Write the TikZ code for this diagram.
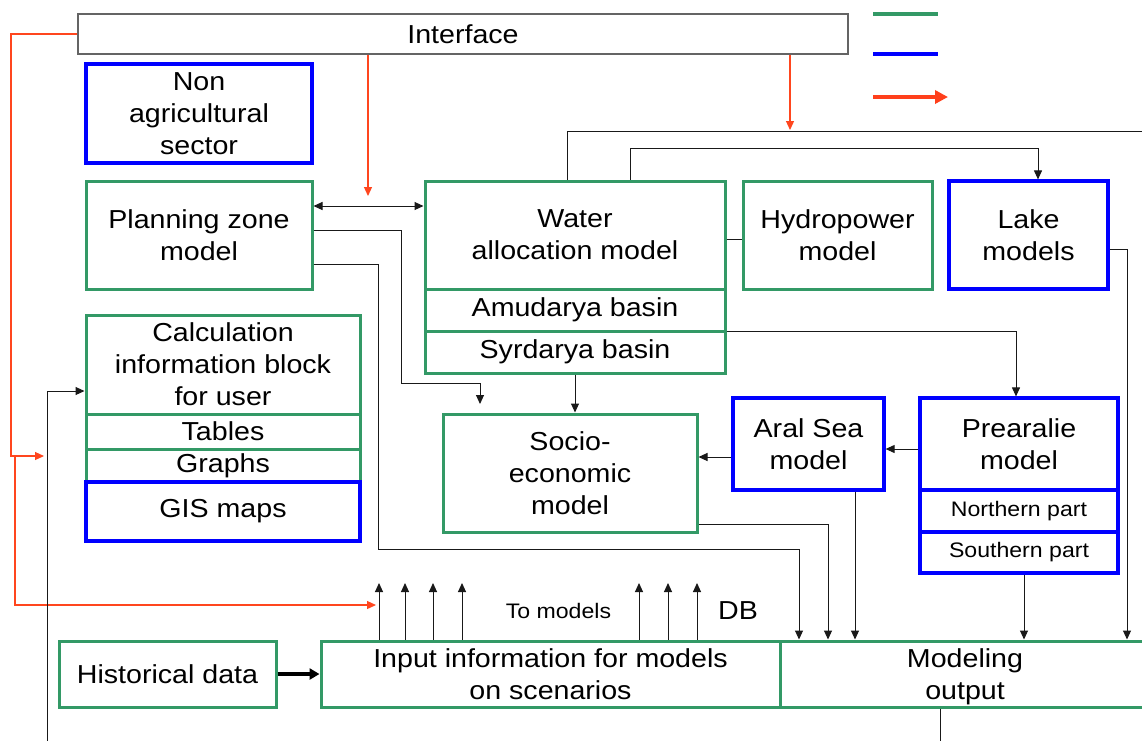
\documentclass[tikz,border=0pt]{standalone}
\usepackage{fontspec}
\setmainfont{Liberation Sans}[FakeStretch=1.1]
\usetikzlibrary{arrows.meta}
\definecolor{gboxc}{RGB}{51,153,102}
\definecolor{bboxc}{RGB}{0,0,255}
\definecolor{redc}{RGB}{255,70,30}
\definecolor{grayc}{RGB}{100,100,100}
\definecolor{linec}{RGB}{25,25,25}
\begin{document}
\begin{tikzpicture}[x=1pt,y=-1pt,
  box/.style={draw, inner sep=0pt, align=center, font=\fontsize{26}{32}\selectfont},
  gbox/.style={box, draw=gboxc, line width=3pt},
  bbox/.style={box, draw=bboxc, line width=3.2pt},
  ibox/.style={box, draw=grayc, line width=2pt},
  conn/.style={draw=linec, line width=1pt},
  arr/.style={-{Triangle[width=8pt,length=9pt]}},
  darr/.style={{Triangle[width=8pt,length=9pt]}-{Triangle[width=8pt,length=9pt]}},
  rconn/.style={draw=redc, line width=1.2pt, -{Triangle[width=8pt,length=9pt]}},
  lbl/.style={inner sep=0pt, align=center, font=\fontsize{26}{32}\selectfont},
  slbl/.style={inner sep=0pt, font=\fontsize{21}{25}\selectfont}
]
\useasboundingbox (0,0) rectangle (1142,740);
\clip (0,0) rectangle (1142,740);
\fill[white] (0,0) rectangle (1142,740);

% boxes
\node[ibox, minimum width=770, minimum height=40] (iface) at (463,34) {Interface};
\node[bbox, minimum width=226, minimum height=99] (nonag) at (199,113.5) {Non\\agricultural\\sector};
\node[gbox, minimum width=226, minimum height=108] (pz) at (199,235) {Planning zone\\model};

\node[gbox, minimum width=274, minimum height=99] (calc) at (223,364.5) {Calculation\\information block\\for user};
\node[gbox, minimum width=274, minimum height=35] (tables) at (223,431.5) {Tables};
\node[gbox, minimum width=274, minimum height=33] (graphs) at (223,465.5) {Graphs};
\node[bbox, minimum width=274, minimum height=59] (gis) at (223,511.5) {GIS maps};

\node[gbox, minimum width=300, minimum height=108] (wa) at (575,235) {Water\\allocation model};
\node[gbox, minimum width=300, minimum height=42] (amu) at (575,310) {Amudarya basin};
\node[gbox, minimum width=300, minimum height=42] (syr) at (575,352) {Syrdarya basin};

\node[gbox, minimum width=189, minimum height=108] (hydro) at (837.5,235) {Hydropower\\model};
\node[bbox, minimum width=159, minimum height=108] (lake) at (1028.5,235) {Lake\\models};

\node[gbox, minimum width=254, minimum height=118] (socio) at (570,473) {Socio-\\economic\\model};
\node[bbox, minimum width=151, minimum height=92] (aral) at (808.5,444) {Aral Sea\\model};
\node[bbox, minimum width=198, minimum height=92] (prear) at (1019,444) {Prearalie\\model};
\node[bbox, minimum width=198, minimum height=42, font=\fontsize{21}{25}\selectfont] (north) at (1019,511) {Northern part};
\node[bbox, minimum width=198, minimum height=41, font=\fontsize{21}{25}\selectfont] (south) at (1019,552.5) {Southern part};

\node[gbox, minimum width=217, minimum height=66] (hist) at (167.5,674) {Historical data};
\node[gbox, minimum width=459, minimum height=66] (input) at (550.5,674) {Input information for models\\on scenarios};
\node[gbox, minimum width=370, minimum height=66] (modout) at (965,674) {};
\node[lbl] (modtext) at (965,677) {Modeling\\output};

\node[slbl] (tomod) at (558.5,611) {To models};
\node[lbl] (db) at (738,611) {DB};

% legend
\coordinate (lg1) at (873,14); \coordinate (lg2) at (938,14);
\coordinate (lb1) at (873,54); \coordinate (lb2) at (938,54);
\coordinate (lr1) at (873,97); \coordinate (lr2) at (948,97);
\draw[gboxc, line width=4pt] (lg1) -- (lg2);
\draw[bboxc, line width=4pt] (lb1) -- (lb2);
\draw[redc!90!red, line width=4pt, -{Triangle[width=13pt,length=13pt]}] (lr1) -- (lr2);

% red connectors
\coordinate (r1) at (44,456);
\coordinate (r2a) at (15,456);
\coordinate (r2) at (376,605);
\coordinate (r3) at (368,196);
\coordinate (r4) at (790,130);
\draw[rconn] (iface.west) -| (11,456) -- (r1);
\draw[rconn] (r2a) |- (r2);
\draw[rconn] (368,0 |- iface.south) -- (r3);
\draw[rconn] (790,0 |- iface.south) -- (r4);

% black connectors
\draw[conn, arr] (567,0 |- wa.north) |- (1147,131) -- (1147,0 |- modout.north);
\draw[conn, arr] (630,0 |- wa.north) |- (1038,148) -- (1038,0 |- lake.north);
\draw[conn, darr] (pz.east |- 0,206) -- (wa.west |- 0,206);
\draw[conn] (wa.east |- 0,239) -- (hydro.west |- 0,239);
\draw[conn, arr] (lake.east |- 0,249) -| (1127,0 |- modout.north);
\coordinate (s1) at (480,404);
\draw[conn, arr] (pz.east |- 0,230) -| (401,383) -| (s1);
\draw[conn, arr] (pz.east |- 0,264) -| (378,549) -| (799,0 |- modout.north);
\draw[conn, arr] (575,0 |- syr.south) -- (575,0 |- socio.north);
\draw[conn, arr] (wa.east |- 0,331) -| (1016,0 |- prear.north);
\draw[conn, arr] (prear.west |- 0,449) -- (aral.east |- 0,449);
\draw[conn, arr] (aral.west |- 0,457) -- (socio.east |- 0,457);
\draw[conn, arr] (socio.east |- 0,524) -| (828,0 |- modout.north);
\draw[conn, arr] (855,0 |- aral.south) -- (855,0 |- modout.north);
\draw[conn, arr] (1024,0 |- south.south) -- (1024,0 |- modout.north);
\foreach \xx in {379,405,433,462,639,668,697}{
  \coordinate (up\xx) at (\xx,583);
  \draw[conn, arr] (\xx,0 |- input.north) -- (up\xx);
}
\draw[draw=black, line width=3.5pt, -{Triangle[width=11pt,length=10pt]}] (hist.east) -- (input.west);
\coordinate (b1) at (47,745);
\draw[conn, arr] (b1) |- (calc.west |- 0,391);
\coordinate (b2) at (940,745);
\draw[conn] (940,0 |- modout.south) -- (b2);
\end{tikzpicture}
\end{document}
